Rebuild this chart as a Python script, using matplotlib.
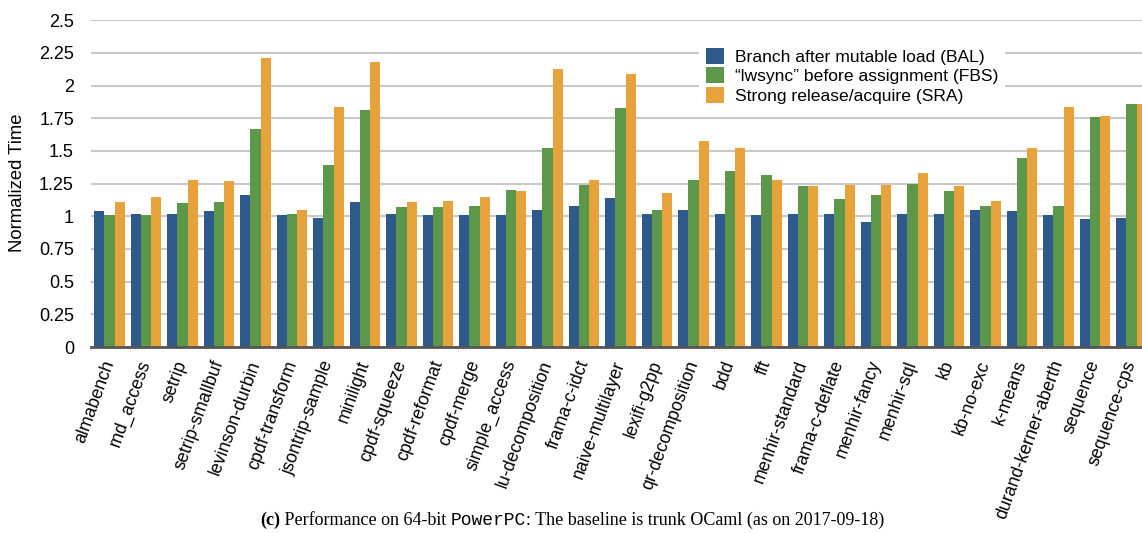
import matplotlib
matplotlib.use("Agg")
import matplotlib.pyplot as plt
import numpy as np

benchmarks = [
    "almabench", "rnd_access", "setrip", "setrip-smallbuf", "levinson-durbin",
    "cpdf-transform", "jsontrip-sample", "minilight", "cpdf-squeeze",
    "cpdf-reformat", "cpdf-merge", "simple_access", "lu-decomposition",
    "frama-c-idct", "naive-multilayer", "lexifi-g2pp", "qr-decomposition",
    "bdd", "fft", "menhir-standard", "frama-c-deflate", "menhir-fancy",
    "menhir-sql", "kb", "kb-no-exc", "k-means", "durand-kerner-aberth",
    "sequence", "sequence-cps",
]
bal = [1.04, 1.02, 1.02, 1.04, 1.16, 1.01, 0.99, 1.11, 1.02, 1.01, 1.01, 1.01,
       1.05, 1.08, 1.14, 1.02, 1.05, 1.02, 1.01, 1.02, 1.02, 0.96, 1.02, 1.02,
       1.05, 1.04, 1.01, 0.98, 0.99]
fbs = [1.01, 1.01, 1.10, 1.11, 1.67, 1.02, 1.39, 1.81, 1.07, 1.07, 1.08, 1.20,
       1.52, 1.24, 1.83, 1.05, 1.28, 1.35, 1.32, 1.23, 1.13, 1.16, 1.25, 1.19,
       1.08, 1.45, 1.08, 1.76, 1.86]
sra = [1.11, 1.15, 1.28, 1.27, 2.21, 1.05, 1.84, 2.18, 1.11, 1.12, 1.15, 1.19,
       2.13, 1.28, 2.09, 1.18, 1.58, 1.52, 1.28, 1.23, 1.24, 1.24, 1.33, 1.23,
       1.12, 1.52, 1.84, 1.77, 1.86]
series_names = [
    "Branch after mutable load (BAL)",
    "\u201clwsync\u201d before assignment (FBS)",
    "Strong release/acquire (SRA)",
]
yticks = [0, 0.25, 0.5, 0.75, 1, 1.25, 1.5, 1.75, 2, 2.25, 2.5]

colors = ["#2E598C", "#5D974A", "#E8A23C"]
W, H = 1142, 533

plt.rcParams["font.family"] = ["Liberation Sans", "DejaVu Sans"]
fig = plt.figure(figsize=(W / 100, H / 100), dpi=100)
ax = fig.add_axes([91.35 / W, (H - 347) / H, 1 - 91.35 / W, (347 - 20.3) / H])

x = np.arange(len(benchmarks))
bw = 0.28
for i, (vals, name) in enumerate(zip([bal, fbs, sra], series_names)):
    ax.bar(x + (i - 1) * bw, vals, bw, color=colors[i], label=name, zorder=2)

ax.set_ylim(0, 2.5)
ax.set_xlim(-0.5, 28.285)
ax.set_yticks(yticks)
ax.set_yticklabels([f"{t:g}" for t in yticks], fontsize=13)
ax.yaxis.grid(True, color="#c8c8c8", linewidth=1.5, zorder=0)
ax.set_axisbelow(True)
for s in ["left", "right", "top"]:
    ax.spines[s].set_visible(False)
ax.spines["bottom"].set_color("#555555")
ax.spines["bottom"].set_linewidth(2)
ax.spines["bottom"].set_zorder(3)
ax.tick_params(axis="both", length=0)
ax.tick_params(axis="y", pad=12.5)
ax.set_xticks(x)
ax.set_xticklabels(benchmarks, rotation=70, ha="right", va="center",
                   rotation_mode="anchor", fontsize=12.8)
ax.tick_params(axis="x", pad=10)

fig.text(18 / W, (H - 183) / H, "Normalized Time", rotation=90,
         ha="center", va="center", fontsize=13.3)

leg = ax.legend(loc="upper left", bbox_to_anchor=(699 / W, (H - 41) / H),
                bbox_transform=fig.transFigure, fontsize=12.6, frameon=True,
                fancybox=False, edgecolor="none", facecolor="white",
                framealpha=1, handlelength=1.05, handleheight=1.0,
                handletextpad=0.6, labelspacing=0.15, borderpad=0.4,
                borderaxespad=0)

# caption with mixed fonts
fig.canvas.draw()
renderer = fig.canvas.get_renderer()
pieces = [
    ("(c)", dict(family="Liberation Serif", weight="bold")),
    (" Performance on 64-bit ", dict(family="Liberation Serif")),
    ("PowerPC", dict(family="Liberation Mono")),
    (": The baseline is trunk OCaml (as on 2017-09-18)", dict(family="Liberation Serif")),
]
cap_size = 13
texts = []
widths = []
for s, kw in pieces:
    t = fig.text(0, 0, s, fontsize=cap_size, va="baseline", ha="left", **kw)
    texts.append(t)
    widths.append(t.get_window_extent(renderer).width)
total = sum(widths)
xpos = (572 - total / 2)
for t, w in zip(texts, widths):
    t.set_position((xpos / W, (H - 525) / H))
    xpos += w

fig.savefig("out.png", dpi=100)
